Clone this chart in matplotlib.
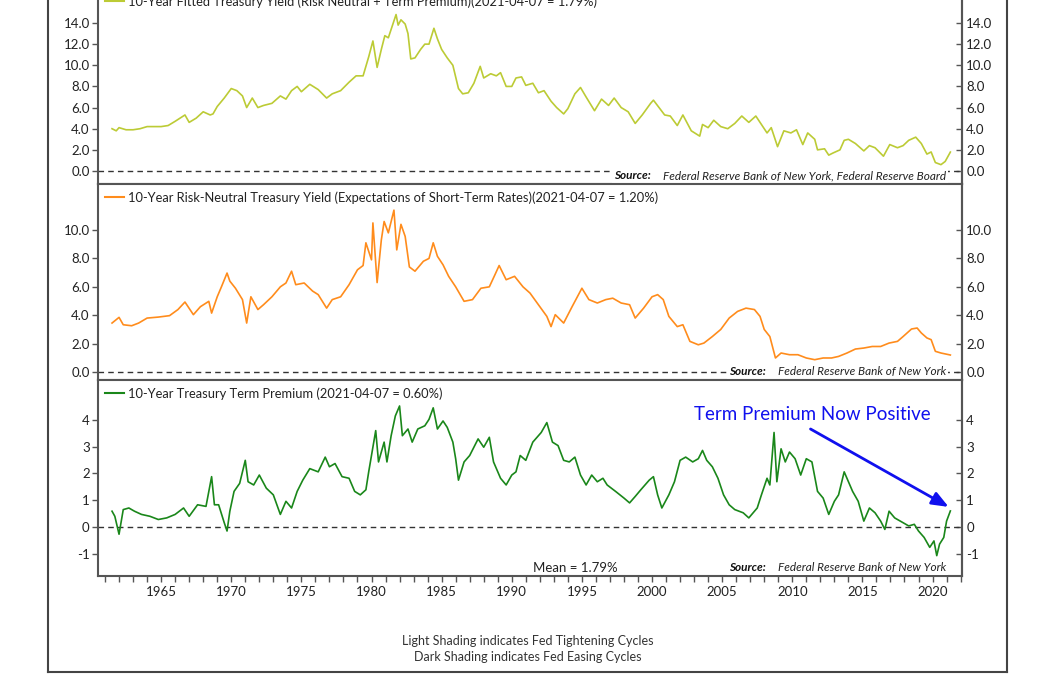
import matplotlib
matplotlib.use("Agg")
import matplotlib.pyplot as plt
from matplotlib.lines import Line2D
from matplotlib.offsetbox import TextArea, HPacker, AnchoredOffsetbox
from matplotlib.ticker import MultipleLocator, FormatStrFormatter, FixedLocator

plt.rcParams['font.family'] = ['Lato', 'DejaVu Sans']

# ---------------- data ----------------
fit_years = [1961.5, 1961.8, 1962.0, 1962.5, 1963.0, 1963.5, 1964.0, 1964.5, 1965.0, 1965.5,
             1966.0, 1966.7, 1967.0, 1967.5, 1968.0, 1968.5, 1968.7, 1969.0, 1969.5, 1970.0,
             1970.4, 1970.8, 1971.1, 1971.5, 1971.9, 1972.3, 1972.9, 1973.5, 1973.9, 1974.3,
             1974.7, 1975.0, 1975.6, 1976.2, 1976.8, 1977.2, 1977.8, 1978.4, 1978.9, 1979.4,
             1979.8, 1980.1, 1980.4, 1980.7, 1980.95, 1981.2, 1981.5, 1981.75, 1981.9, 1982.1,
             1982.4, 1982.6, 1982.8, 1983.1, 1983.5, 1983.8, 1984.1, 1984.45, 1984.7, 1985.0,
             1985.4, 1985.8, 1986.2, 1986.5, 1986.9, 1987.3, 1987.75, 1988.0, 1988.5, 1988.9,
             1989.2, 1989.6, 1990.0, 1990.3, 1990.7, 1991.0, 1991.5, 1991.9, 1992.3, 1992.8,
             1993.2, 1993.7, 1994.0, 1994.5, 1994.9, 1995.3, 1995.9, 1996.4, 1996.9, 1997.3,
             1997.8, 1998.3, 1998.8, 1999.3, 1999.9, 2000.1, 2000.5, 2000.9, 2001.3, 2001.8,
             2002.2, 2002.8, 2003.4, 2003.6, 2004.0, 2004.4, 2004.9, 2005.4, 2005.9, 2006.4,
             2006.9, 2007.4, 2007.9, 2008.2, 2008.5, 2008.95, 2009.4, 2009.9, 2010.3, 2010.75,
             2011.1, 2011.6, 2011.8, 2012.3, 2012.6, 2012.9, 2013.4, 2013.7, 2014.0, 2014.5,
             2015.1, 2015.5, 2015.9, 2016.5, 2016.95, 2017.5, 2017.9, 2018.3, 2018.8, 2019.2,
             2019.6, 2019.9, 2020.2, 2020.6, 2020.9, 2021.27]
fit_vals = [4.0, 3.8, 4.1, 3.9, 3.9, 4.0, 4.2, 4.2, 4.2, 4.3,
            4.7, 5.3, 4.6, 5.0, 5.6, 5.3, 5.4, 6.1, 6.9, 7.8,
            7.6, 7.1, 6.0, 6.9, 6.0, 6.2, 6.4, 7.1, 6.8, 7.6,
            8.0, 7.5, 8.2, 7.7, 6.9, 7.3, 7.6, 8.4, 9.0, 9.0,
            10.8, 12.3, 9.8, 11.5, 12.8, 12.6, 13.8, 14.8, 13.8, 14.3,
            13.9, 13.0, 10.6, 10.7, 11.5, 12.0, 12.0, 13.5, 12.5, 11.5,
            10.7, 10.0, 7.8, 7.3, 7.4, 8.3, 9.9, 8.8, 9.2, 9.0,
            9.3, 8.0, 8.0, 8.8, 8.9, 8.1, 8.3, 7.4, 7.6, 6.6,
            6.0, 5.4, 5.9, 7.3, 7.9, 7.0, 5.7, 6.8, 6.2, 6.9,
            6.0, 5.6, 4.5, 5.3, 6.4, 6.7, 6.0, 5.3, 5.2, 4.3,
            5.3, 3.8, 3.3, 4.4, 4.1, 4.8, 4.2, 4.0, 4.5, 5.2,
            4.6, 5.2, 4.2, 3.6, 4.1, 2.3, 3.8, 3.6, 3.9, 2.5,
            3.6, 3.0, 2.0, 2.1, 1.5, 1.7, 2.0, 2.9, 3.0, 2.6,
            1.9, 2.4, 2.2, 1.4, 2.5, 2.2, 2.4, 2.9, 3.2, 2.6,
            1.6, 1.8, 0.8, 0.6, 0.9, 1.79]

rn_years = [1961.5, 1962.0, 1962.3, 1962.9, 1963.4, 1964.0, 1964.8, 1965.6, 1966.2, 1966.7,
            1967.3, 1967.8, 1968.4, 1968.6, 1969.0, 1969.3, 1969.7, 1969.9, 1970.3, 1970.8,
            1971.1, 1971.4, 1971.9, 1972.3, 1972.9, 1973.5, 1973.9, 1974.3, 1974.6, 1975.2,
            1975.8, 1976.2, 1976.8, 1977.2, 1977.8, 1978.4, 1979.0, 1979.4, 1979.6, 1980.0,
            1980.1, 1980.4, 1980.7, 1980.9, 1981.2, 1981.6, 1981.8, 1982.1, 1982.4, 1982.7,
            1983.1, 1983.7, 1984.1, 1984.4, 1984.7, 1985.1, 1985.5, 1986.0, 1986.6, 1987.2,
            1987.8, 1988.4, 1988.8, 1989.1, 1989.6, 1990.2, 1990.8, 1991.3, 1991.9, 1992.5,
            1992.8, 1993.1, 1993.7, 1994.3, 1995.0, 1995.5, 1996.1, 1996.7, 1997.2, 1997.8,
            1998.4, 1998.8, 1999.4, 2000.0, 2000.4, 2000.8, 2001.2, 2001.8, 2002.2, 2002.7,
            2003.3, 2003.7, 2004.3, 2004.9, 2005.5, 2006.1, 2006.7, 2007.3, 2007.7, 2008.0,
            2008.4, 2008.8, 2009.2, 2009.8, 2010.4, 2011.0, 2011.6, 2012.2, 2012.8, 2013.3,
            2013.9, 2014.5, 2015.1, 2015.7, 2016.3, 2016.9, 2017.5, 2017.9, 2018.5, 2018.9,
            2019.2, 2019.6, 2019.9, 2020.2, 2020.6, 2021.27]
rn_vals = [3.45, 3.85, 3.33, 3.26, 3.45, 3.8, 3.87, 3.97, 4.4, 4.93,
           4.04, 4.6, 4.98, 4.15, 5.3, 6.0, 6.97, 6.4, 5.9, 5.1,
           3.45, 5.3, 4.4, 4.74, 5.3, 6.0, 6.27, 7.1, 6.15, 6.27,
           5.7, 5.45, 4.5, 5.1, 5.3, 6.15, 7.2, 7.5, 9.1, 7.9,
           10.5, 6.3, 9.3, 10.6, 9.8, 11.4, 8.6, 10.4, 9.55, 7.4,
           7.1, 7.8, 8.0, 9.1, 8.15, 7.55, 6.74, 6.0, 4.98, 5.1,
           5.9, 6.0, 6.85, 7.5, 6.5, 6.74, 6.0, 5.56, 4.74, 3.92,
           3.2, 4.04, 3.45, 4.6, 5.9, 5.1, 4.86, 5.1, 5.2, 4.86,
           4.74, 3.8, 4.5, 5.3, 5.45, 5.1, 3.92, 3.2, 3.33, 2.16,
           1.92, 2.04, 2.5, 3.0, 3.8, 4.27, 4.5, 4.4, 3.92, 3.0,
           2.5, 0.99, 1.34, 1.22, 1.22, 0.99, 0.87, 0.99, 0.99, 1.1,
           1.34, 1.62, 1.69, 1.8, 1.8, 2.04, 2.16, 2.5, 3.03, 3.1,
           2.75, 2.4, 2.28, 1.46, 1.34, 1.20]

tp_years = [1961.5, 1961.7, 1962.0, 1962.3, 1962.7, 1963.1, 1963.6, 1964.2, 1964.8, 1965.4,
            1966.0, 1966.6, 1967.0, 1967.6, 1968.2, 1968.6, 1968.8, 1969.1, 1969.5, 1969.7,
            1969.9, 1970.2, 1970.6, 1971.0, 1971.2, 1971.6, 1972.0, 1972.5, 1973.0, 1973.5,
            1973.9, 1974.3, 1974.7, 1975.1, 1975.6, 1976.2, 1976.7, 1977.0, 1977.4, 1977.9,
            1978.4, 1978.8, 1979.2, 1979.6, 1979.8, 1980.1, 1980.3, 1980.5, 1980.9, 1981.1,
            1981.4, 1981.7, 1982.0, 1982.2, 1982.6, 1982.9, 1983.3, 1983.8, 1984.1, 1984.4,
            1984.7, 1985.1, 1985.4, 1985.8, 1986.0, 1986.2, 1986.6, 1987.0, 1987.6, 1988.0,
            1988.4, 1988.7, 1989.2, 1989.6, 1990.0, 1990.3, 1990.6, 1991.0, 1991.5, 1992.1,
            1992.5, 1992.9, 1993.3, 1993.7, 1994.1, 1994.5, 1994.9, 1995.3, 1995.7, 1996.1,
            1996.5, 1996.8, 1997.4, 1998.0, 1998.4, 1998.8, 1999.2, 1999.8, 2000.1, 2000.4,
            2000.7, 2001.2, 2001.6, 2002.0, 2002.4, 2002.9, 2003.3, 2003.6, 2003.9, 2004.3,
            2004.7, 2005.1, 2005.5, 2005.9, 2006.5, 2006.9, 2007.5, 2007.8, 2008.2, 2008.4,
            2008.7, 2008.9, 2009.2, 2009.5, 2009.8, 2010.2, 2010.6, 2011.0, 2011.4, 2011.8,
            2012.2, 2012.6, 2013.0, 2013.3, 2013.7, 2014.0, 2014.3, 2014.7, 2015.1, 2015.5,
            2015.9, 2016.3, 2016.6, 2016.9, 2017.3, 2017.9, 2018.3, 2018.7, 2019.0, 2019.4,
            2019.8, 2020.1, 2020.3, 2020.5, 2020.8, 2021.0, 2021.27]
tp_vals = [0.59, 0.4, -0.27, 0.65, 0.71, 0.59, 0.47, 0.4, 0.28, 0.34,
           0.47, 0.71, 0.4, 0.83, 0.77, 1.88, 0.83, 0.83, 0.16, -0.15,
           0.59, 1.33, 1.63, 2.49, 1.69, 1.57, 1.94, 1.45, 1.2, 0.47,
           0.96, 0.71, 1.33, 1.75, 2.18, 2.06, 2.61, 2.25, 2.37, 1.88,
           1.82, 1.33, 1.2, 1.39, 2.06, 2.98, 3.6, 2.43, 3.17, 2.43,
           3.41, 4.15, 4.52, 3.41, 3.66, 3.17, 3.66, 3.78, 4.02, 4.45,
           3.66, 3.96, 3.72, 3.17, 2.55, 1.75, 2.43, 2.67, 3.29, 2.98,
           3.35, 2.43, 1.82, 1.57, 1.94, 2.06, 2.67, 2.49, 3.17, 3.53,
           3.9, 3.17, 3.04, 2.49, 2.43, 2.61, 1.94, 1.57, 1.94, 1.69,
           1.82, 1.57, 1.33, 1.08, 0.9, 1.14, 1.39, 1.75, 1.88, 1.2,
           0.71, 1.2, 1.69, 2.49, 2.61, 2.43, 2.55, 2.86, 2.49, 2.25,
           1.82, 1.2, 0.83, 0.65, 0.53, 0.34, 0.71, 1.2, 1.82, 1.57,
           3.53, 1.69, 2.92, 2.43, 2.8, 2.55, 1.94, 2.55, 2.43, 1.33,
           1.08, 0.47, 0.96, 1.2, 2.06, 1.69, 1.33, 0.96, 0.22, 0.71,
           0.53, 0.22, -0.09, 0.59, 0.34, 0.16, 0.04, 0.1, -0.15, -0.39,
           -0.76, -0.52, -1.07, -0.64, -0.39, 0.22, 0.60]

fit_label = "10-Year Fitted Treasury Yield (Risk Neutral + Term Premium)(2021-04-07 = 1.79%)"
rn_label = "10-Year Risk-Neutral Treasury Yield (Expectations of Short-Term Rates)(2021-04-07 = 1.20%)"
tp_label = "10-Year Treasury Term Premium (2021-04-07 = 0.60%)"
tp_mean = 1.79

x_major = [1965, 1970, 1975, 1980, 1985, 1990, 1995, 2000, 2005, 2010, 2015, 2020]

# ---------------- figure ----------------
W, H = 1056, 675
fig = plt.figure(figsize=(W / 100, H / 100), dpi=100)

def fx(px):
    return px / W

def fy(py):
    return 1 - py / H

left, right = 98, 962
panels = [(-12, 184), (184, 380), (380, 576)]
spine_col = '#555555'
txt_col = '#222222'

axes = []
for (t, b) in panels:
    ax = fig.add_axes([fx(left), fy(b), fx(right - left), (b - t) / H])
    axes.append(ax)

specs = [
    (axes[0], fit_years, fit_vals, '#bccb35', fit_label, (-1.23, 17.31), [0, 2, 4, 6, 8, 10, 12, 14], '%.1f',
     "Federal Reserve Bank of New York, Federal Reserve Board"),
    (axes[1], rn_years, rn_vals, '#ff8c1c', rn_label, (-0.56, 13.24), [0, 2, 4, 6, 8, 10], '%.1f',
     "Federal Reserve Bank of New York"),
    (axes[2], tp_years, tp_vals, '#1a871a', tp_label, (-1.83, 5.49), [-1, 0, 1, 2, 3, 4], '%d',
     "Federal Reserve Bank of New York"),
]

for i, (ax, xs, ys, col, lab, ylim, yt, fmt, src) in enumerate(specs):
    ax.set_xlim(1960.5, 2022.1)
    ax.set_ylim(*ylim)
    ax.axhline(0, color='#333333', lw=1.0, ls=(0, (4, 3)), zorder=1)
    ax.plot(xs, ys, color=col, lw=1.2, zorder=3)
    for s in ax.spines.values():
        s.set_color(spine_col)
        s.set_linewidth(1.5)
    ax.yaxis.set_major_locator(FixedLocator(yt))
    ax.yaxis.set_major_formatter(FormatStrFormatter(fmt))
    ax.tick_params(axis='y', direction='out', length=4, width=1, color=spine_col,
                   labelsize=9.5, labelcolor=txt_col, pad=2)
    sec = ax.secondary_yaxis('right')
    sec.yaxis.set_major_locator(FixedLocator(yt))
    sec.yaxis.set_major_formatter(FormatStrFormatter(fmt))
    sec.tick_params(axis='y', direction='in', length=4, width=1, color=spine_col,
                    labelsize=9.5, labelcolor=txt_col, pad=3)
    sec.spines['right'].set_color(spine_col)
    sec.spines['right'].set_linewidth(1.5)

    if i < 2:
        ax.tick_params(axis='x', which='both', bottom=False, labelbottom=False)
    else:
        ax.xaxis.set_major_locator(FixedLocator(x_major))
        ax.xaxis.set_minor_locator(MultipleLocator(1))
        ax.xaxis.set_major_formatter(FormatStrFormatter('%d'))
        ax.tick_params(axis='x', which='both', direction='out', length=4, width=1,
                       color=spine_col, labelsize=9.5, labelcolor=txt_col, pad=3)

    handle = Line2D([], [], color=col, lw=1.5)
    ax.legend([handle], [lab], loc='upper left', frameon=False, fontsize=9.3,
              handlelength=1.5, handletextpad=0.3, borderaxespad=0.25, borderpad=0.3,
              labelcolor=txt_col)

    # source box
    t1 = TextArea("Source:", textprops=dict(fontsize=8.5, fontstyle='italic',
                                            fontweight='bold', color='#111111'))
    t2 = TextArea(src, textprops=dict(fontsize=8.5, fontstyle='italic', color='#222222'))
    pack = HPacker(children=[t1, t2], align='baseline', pad=0, sep=9)
    abox = AnchoredOffsetbox(loc='lower right', child=pack, pad=0.12, borderpad=0,
                             frameon=True, bbox_to_anchor=(0.984, 0.006),
                             bbox_transform=ax.transAxes)
    abox.patch.set_facecolor('white')
    abox.patch.set_edgecolor('none')
    abox.zorder = 4
    ax.add_artist(abox)

ax3 = axes[2]
ax3.text(1994.5, -1.53, "Mean = %.2f%%" % tp_mean, ha='center', va='center',
         fontsize=9.5, color=txt_col)
ax3.annotate("", xy=(2021.15, 0.75), xytext=(2011.3, 3.66),
             arrowprops=dict(arrowstyle='-|>,head_length=1.0,head_width=0.4',
                             color='#1010ee', lw=2, shrinkA=0, shrinkB=0), zorder=5)
ax3.text(2011.4, 4.2, "Term Premium Now Positive", ha='center', va='center',
         fontsize=13.5, color='#1010ee')

# footer
fig.text(0.5, fy(641), "Light Shading indicates Fed Tightening Cycles", ha='center', va='center',
         fontsize=9, color='#333333')
fig.text(0.5, fy(657), "Dark Shading indicates Fed Easing Cycles", ha='center', va='center',
         fontsize=9, color='#333333')

# outer frame
fc = '#444444'
fig.add_artist(Line2D([fx(48), fx(48)], [fy(672), 1.0], color=fc, lw=1.5))
fig.add_artist(Line2D([fx(1007), fx(1007)], [fy(672), 1.0], color=fc, lw=1.5))
fig.add_artist(Line2D([fx(48), fx(1007)], [fy(672), fy(672)], color=fc, lw=1.5))

fig.savefig("out.png", dpi=100)
